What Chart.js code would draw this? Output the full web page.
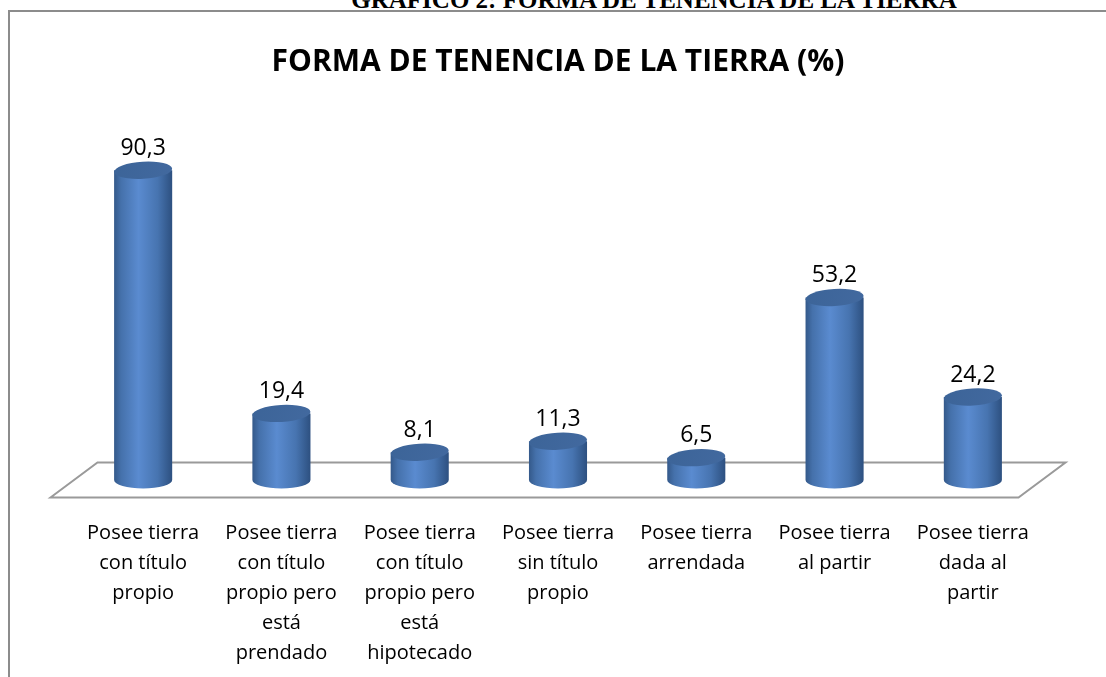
<!DOCTYPE html>
<html>
<head>
<meta charset="utf-8">
<script src="https://cdn.jsdelivr.net/npm/chart.js@4"></script>
<style>
  html, body { margin: 0; padding: 0; background: #ffffff; }
  #wrap { position: relative; width: 1106px; height: 677px; overflow: hidden; background: #fff; }
  #header { position: absolute; left: 654px; top: -13px; transform: translateX(-50%);
    font-family: "Liberation Serif", "DejaVu Serif", serif; font-weight: bold; font-size: 25px;
    white-space: nowrap; color: #000; line-height: 25px; }
  #frame { position: absolute; left: 8px; top: 10px; width: 1200px; height: 800px;
    border-left: 2px solid #8c8c8c; border-top: 2px solid #8c8c8c; }
  #c { position: absolute; left: 0; top: 0; }
</style>
</head>
<body>
<div id="wrap">
  <div id="header">GRÁFICO 2: FORMA DE TENENCIA DE LA TIERRA</div>
  <div id="frame"></div>
  <canvas id="c" width="1106" height="677"></canvas>
</div>
<script>
const chartTitle = "FORMA DE TENENCIA DE LA TIERRA (%)";
const categories = [
  ["Posee tierra", "con título", "propio"],
  ["Posee tierra", "con título", "propio pero", "está", "prendado"],
  ["Posee tierra", "con título", "propio pero", "está", "hipotecado"],
  ["Posee tierra", "sin título", "propio"],
  ["Posee tierra", "arrendada"],
  ["Posee tierra", "al partir"],
  ["Posee tierra", "dada al", "partir"]
];
const values = [90.3, 19.4, 8.1, 11.3, 6.5, 53.2, 24.2];

const cylinderPlugin = {
  id: 'cylinders',
  beforeDatasetsDraw(chart) {
    const ctx = chart.ctx, a = chart.chartArea;
    const yb = a.bottom, dx = 23.5, dy = 17.5;
    ctx.save();
    ctx.strokeStyle = '#9a9a9a';
    ctx.lineWidth = 2;
    ctx.beginPath();
    ctx.moveTo(a.left - dx, yb + dy);
    ctx.lineTo(a.left + dx, yb - dy);
    ctx.lineTo(a.right + dx, yb - dy);
    ctx.lineTo(a.right - dx, yb + dy);
    ctx.closePath();
    ctx.stroke();
    ctx.restore();
  },
  afterDatasetsDraw(chart) {
    const ctx = chart.ctx;
    const meta = chart.getDatasetMeta(0);
    const ds = chart.data.datasets[0];
    meta.data.forEach((bar, i) => {
      const { x, y, base, width } = bar.getProps(['x', 'y', 'base', 'width'], true);
      const rx = width / 2, ry = 8.5;
      const l = x - rx, r = x + rx;
      ctx.save();
      const g = ctx.createLinearGradient(l, 0, r, 0);
      g.addColorStop(0, '#34598a');
      g.addColorStop(0.12, '#4571ab');
      g.addColorStop(0.42, '#5a8bd0');
      g.addColorStop(0.75, '#4774b0');
      g.addColorStop(1, '#2d5080');
      ctx.fillStyle = g;
      ctx.beginPath();
      ctx.moveTo(l, y);
      ctx.lineTo(l, base);
      ctx.ellipse(x, base, rx, ry, 0, Math.PI, 0, true);
      ctx.lineTo(r, y);
      ctx.closePath();
      ctx.fill();
      const tg = ctx.createLinearGradient(l, y - ry, r, y + ry);
      tg.addColorStop(0, '#3c6498');
      tg.addColorStop(1, '#42699f');
      ctx.fillStyle = tg;
      ctx.beginPath();
      ctx.ellipse(x, y, rx, ry, -0.06, 0, Math.PI * 2);
      ctx.fill();
      ctx.fillStyle = '#000';
      ctx.font = '23px "Open Sans", sans-serif';
      ctx.textAlign = 'center';
      ctx.textBaseline = 'bottom';
      ctx.fillText(ds.data[i].toFixed(1).replace('.', ','), x, y - ry - 2);
      ctx.restore();
    });
  }
};

new Chart(document.getElementById('c'), {
  type: 'bar',
  data: {
    labels: categories,
    datasets: [{
      data: values,
      backgroundColor: 'rgba(0,0,0,0)',
      borderWidth: 0,
      barPercentage: 0.7,
      categoryPercentage: 0.6
    }]
  },
  options: {
    responsive: false,
    animation: false,
    devicePixelRatio: 1,
    layout: { padding: { left: 74, right: 64, top: 0, bottom: 0 } },
    plugins: {
      legend: { display: false },
      tooltip: { enabled: false },
      title: {
        display: true,
        text: chartTitle,
        color: '#000',
        font: { family: '"Open Sans", sans-serif', size: 30, weight: 'bold', lineHeight: 1.2 },
        padding: { top: 44, bottom: 57 }
      }
    },
    scales: {
      y: { display: false, min: 0, max: 100 },
      x: {
        grid: { display: false, drawTicks: false },
        border: { display: false },
        afterFit: (s) => { s.height = 197; },
        ticks: {
          color: '#000',
          maxRotation: 0,
          autoSkip: false,
          padding: 38,
          font: { family: '"Open Sans", sans-serif', size: 20, lineHeight: 1.5 }
        }
      }
    }
  },
  plugins: [cylinderPlugin]
});
</script>
</body>
</html>
